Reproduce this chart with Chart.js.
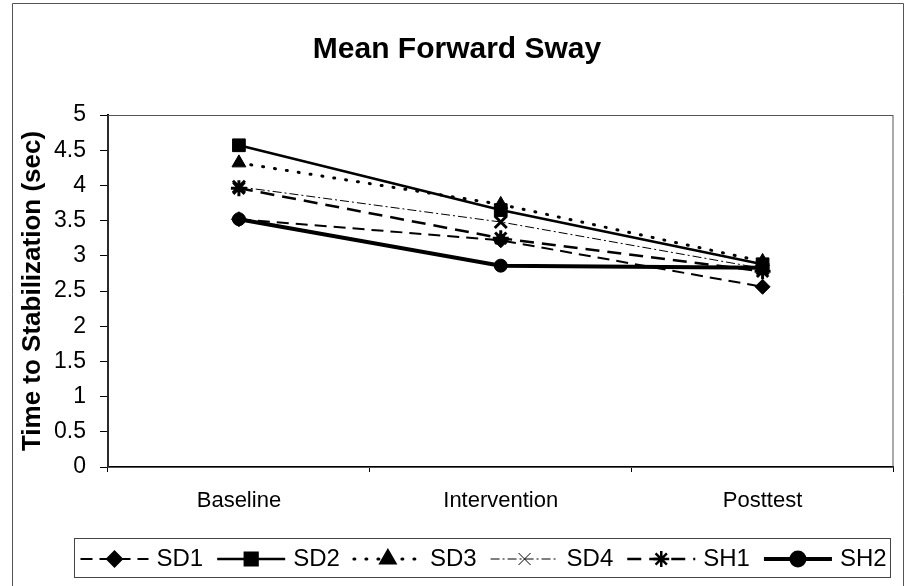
<!DOCTYPE html>
<html>
<head>
<meta charset="utf-8">
<script src="https://cdn.jsdelivr.net/npm/chart.js@4/dist/chart.umd.min.js"></script>
<style>
	html, body { margin: 0; padding: 0; background: #fff; }
	#wrap { width: 905px; height: 586px; }
</style>
</head>
<body>
<div id="wrap"><canvas id="chart" width="905" height="586"></canvas></div>
<script>
const phases = ['Baseline', 'Intervention', 'Posttest'];
const seriesNames = ['SD1', 'SD2', 'SD3', 'SD4', 'SH1', 'SH2'];
const sd1 = [3.52, 3.22, 2.56];
const sd2 = [4.57, 3.65, 2.88];
const sd3 = [4.32, 3.73, 2.92];
const sd4 = [3.98, 3.48, 2.82];
const sh1 = [3.96, 3.25, 2.78];
const sh2 = [3.52, 2.86, 2.83];
const yTicks = [0, 0.5, 1, 1.5, 2, 2.5, 3, 3.5, 4, 4.5, 5];

const FONT = "'Liberation Sans', Arial, sans-serif";

function makeSet(label, values, style) {
	return Object.assign({
		label: label,
		data: values,
		borderColor: '#000',
		backgroundColor: '#000',
		pointBorderColor: '#000',
		pointBackgroundColor: '#000',
		fill: false,
		tension: 0,
		pointRadius: 6,
		pointBorderWidth: 1,
	}, style);
}

const datasets = [
	makeSet(seriesNames[0], sd1, { borderWidth: 2, borderDash: [12, 7], pointStyle: 'rectRot', pointRadius: 7.5 }),
	makeSet(seriesNames[1], sd2, { borderWidth: 2.5, borderDash: [], pointStyle: 'rect', pointRadius: 9 }),
	makeSet(seriesNames[2], sd3, { borderWidth: 3, borderDash: [1, 11], borderCapStyle: 'round', pointStyle: 'triangle', pointRadius: 8 }),
	makeSet(seriesNames[3], sd4, { borderWidth: 1, borderDash: [9, 3, 2, 3], pointStyle: 'crossRot', pointRadius: 8.5, pointBorderWidth: 3 }),
	makeSet(seriesNames[4], sh1, { borderWidth: 2.5, borderDash: [14, 8], pointStyle: 'star', pointRadius: 8, pointBorderWidth: 3 }),
	makeSet(seriesNames[5], sh2, { borderWidth: 4, borderDash: [], pointStyle: 'circle', pointRadius: 6.5 }),
];

// white background, outer frame and plot area border
const frame = {
	id: 'frame',
	beforeDraw(chart) {
		const {ctx, width, height} = chart;
		ctx.save();
		ctx.fillStyle = '#fff';
		ctx.fillRect(0, 0, width, height);
		ctx.strokeStyle = '#555';
		ctx.lineWidth = 1;
		ctx.beginPath();
		ctx.moveTo(12.5, height);
		ctx.lineTo(12.5, 3.5);
		ctx.lineTo(903.5, 3.5);
		ctx.lineTo(903.5, height);
		ctx.stroke();
		ctx.restore();
	},
	afterDatasetsDraw(chart) {
		const {ctx, chartArea: {left, top, width, height}} = chart;
		ctx.save();
		ctx.strokeStyle = '#555';
		ctx.lineWidth = 1;
		ctx.strokeRect(left, top + 0.5, width - 0.5, height);
		ctx.restore();
	}
};

// excel style legend: line sample with the marker in the middle, then the name
const excelLegend = {
	id: 'excelLegend',
	afterDraw(chart) {
		const ctx = chart.ctx;
		const box = {x: 74.5, y: 538.5, w: 816, h: 39};
		ctx.save();
		ctx.strokeStyle = '#444';
		ctx.lineWidth = 1;
		ctx.strokeRect(box.x, box.y, box.w, box.h);
		ctx.font = '24px ' + FONT;
		ctx.textBaseline = 'middle';
		const sampleLen = 68;
		const gap = 8;
		const spacing = 14;
		let x = box.x + 6;
		const cy = box.y + box.h / 2 + 1;
		chart.data.datasets.forEach((ds) => {
			ctx.save();
			ctx.strokeStyle = '#000';
			ctx.lineWidth = ds.borderWidth;
			ctx.lineCap = ds.borderCapStyle || 'butt';
			ctx.setLineDash(ds.borderDash || []);
			ctx.beginPath();
			ctx.moveTo(x, cy);
			ctx.lineTo(x + sampleLen, cy);
			ctx.stroke();
			ctx.setLineDash([]);
			Chart.helpers.drawPoint(ctx, {
				pointStyle: ds.pointStyle,
				radius: ds.pointRadius,
				rotation: 0,
				borderWidth: ds.pointBorderWidth || 1,
			}, x + sampleLen / 2, cy);
			ctx.restore();
			ctx.fillStyle = '#000';
			ctx.fillText(ds.label, x + sampleLen + gap, cy);
			x += sampleLen + gap + ctx.measureText(ds.label).width + spacing;
		});
		ctx.restore();
	}
};

new Chart(document.getElementById('chart'), {
	type: 'line',
	data: { labels: phases, datasets: datasets },
	options: {
		responsive: false,
		animation: false,
		events: [],
		layout: { padding: { left: 12, right: 3, top: 0, bottom: 0 } },
		plugins: {
			legend: { display: false },
			tooltip: { enabled: false },
			title: {
				display: true,
				text: 'Mean Forward Sway',
				color: '#000',
				font: { family: FONT, size: 30, weight: 'bold' },
				padding: { top: 32, bottom: 47 },
			},
		},
		scales: {
			x: {
				offset: true,
				grid: { offset: true, drawOnChartArea: false, drawTicks: true, tickLength: 5, color: '#000' },
				border: { color: '#000', width: 2 },
				ticks: { color: '#000', font: { family: FONT, size: 22 }, padding: 16, maxRotation: 0 },
				afterFit(scale) { scale.height = 119; },
			},
			y: {
				min: 0,
				max: 5,
				afterBuildTicks(scale) { scale.ticks = yTicks.map(v => ({ value: v })); },
				grid: { drawOnChartArea: false, drawTicks: true, tickLength: 8, color: '#000' },
				border: { color: '#000', width: 2 },
				ticks: { color: '#000', font: { family: FONT, size: 23 }, padding: 14, callback: v => String(v) },
				title: {
					display: true,
					text: 'Time to Stabilization (sec)',
					color: '#000',
					font: { family: FONT, size: 26, weight: 'bold' },
					padding: { top: 5, bottom: 0 },
				},
				afterFit(scale) { scale.width = 96; },
			},
		},
	},
	plugins: [frame, excelLegend],
});
</script>
</body>
</html>
